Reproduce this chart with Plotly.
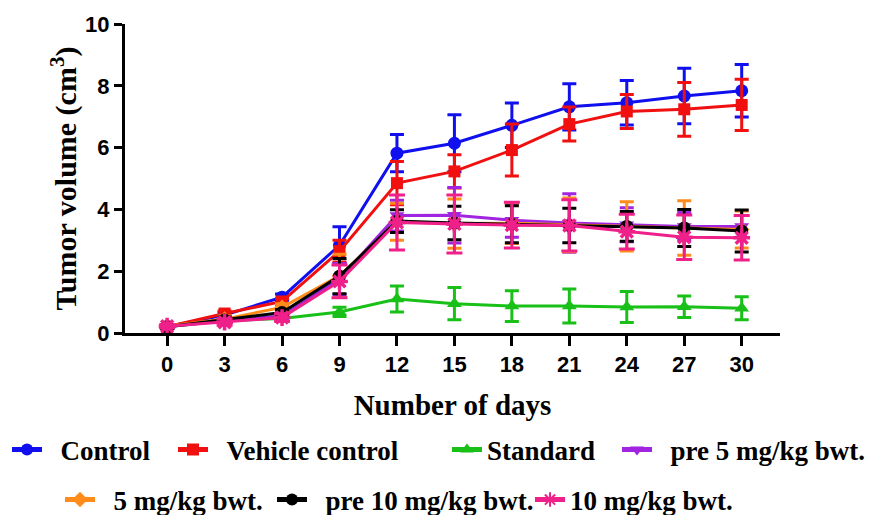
import plotly.graph_objects as go

# Days of measurement
days = [0, 3, 6, 9, 12, 15, 18, 21, 24, 27, 30]

# Mean tumour volume (cm^3) per group
control = [0.20, 0.58, 1.16, 2.84, 5.82, 6.14, 6.72, 7.32, 7.45, 7.67, 7.84]
vehicle = [0.20, 0.63, 1.02, 2.65, 4.85, 5.23, 5.92, 6.76, 7.17, 7.24, 7.38]
standard = [0.20, 0.40, 0.47, 0.68, 1.10, 0.95, 0.87, 0.87, 0.84, 0.85, 0.80]
pre5 = [0.20, 0.40, 0.55, 1.75, 3.80, 3.81, 3.65, 3.56, 3.50, 3.45, 3.45]
dose5 = [0.22, 0.45, 0.83, 1.85, 3.60, 3.54, 3.55, 3.50, 3.45, 3.40, 3.35]
pre10 = [0.20, 0.42, 0.66, 1.84, 3.62, 3.56, 3.52, 3.48, 3.45, 3.40, 3.30]
dose10 = [0.22, 0.35, 0.50, 1.67, 3.58, 3.53, 3.49, 3.48, 3.28, 3.10, 3.08]

# Standard deviations
control_sd = [0.05, 0.08, 0.10, 0.60, 0.60, 0.92, 0.72, 0.75, 0.72, 0.90, 0.85]
vehicle_sd = [0.05, 0.08, 0.10, 0.35, 0.70, 0.54, 0.84, 0.55, 0.55, 0.87, 0.83]
standard_sd = [0.05, 0.08, 0.10, 0.15, 0.42, 0.52, 0.50, 0.55, 0.50, 0.35, 0.37]
pre5_sd = [0.05, 0.10, 0.12, 0.50, 0.50, 0.90, 0.55, 0.95, 0.55, 0.45, 0.35]
dose5_sd = [0.05, 0.10, 0.12, 0.70, 0.60, 0.80, 0.65, 0.87, 0.80, 0.88, 0.60]
pre10_sd = [0.05, 0.10, 0.10, 0.57, 0.37, 0.54, 0.60, 0.56, 0.48, 0.60, 0.68]
dose10_sd = [0.05, 0.10, 0.12, 0.53, 0.89, 0.94, 0.74, 0.83, 0.56, 0.72, 0.72]

tick_vals_x = days
tick_vals_y = [0, 2, 4, 6, 8, 10]

groups = [
    ("Control", control, control_sd, "#1010EE", "circle", 13),
    ("Vehicle control", vehicle, vehicle_sd, "#F01010", "square", 12),
    ("Standard", standard, standard_sd, "#18C018", "triangle-up", 13),
    ("pre 5 mg/kg bwt.", pre5, pre5_sd, "#A024E0", "triangle-down", 13),
    ("5 mg/kg bwt.", dose5, dose5_sd, "#FF8C1A", "diamond", 12),
    ("pre 10 mg/kg bwt.", pre10, pre10_sd, "#000000", "circle", 13),
    ("10 mg/kg bwt.", dose10, dose10_sd, "#F0208A", "asterisk-open", 14),
]

# legend slot for each group: (legend id, x px of left edge, y px of centre, pad before text)
legend_slots = [
    ("legend", 7, 450, "\u2002"),
    ("legend2", 173, 450, "\u2002"),
    ("legend3", 447, 450, ""),
    ("legend4", 617, 450, "\u2002"),
    ("legend5", 60, 500, "\u2002"),
    ("legend6", 272, 500, "\u2002"),
    ("legend7", 530, 500, ""),
]

W, H = 876, 515
fig = go.Figure()

for (name, vals, sd, color, symbol, size), (lg, lx, ly, pad) in zip(groups, legend_slots):
    marker = dict(symbol=symbol, size=size, color=color)
    if symbol == "asterisk-open":
        marker["line"] = dict(color=color, width=3.5)
    fig.add_trace(go.Scatter(
        x=days, y=vals, name=pad + name, mode="lines+markers",
        line=dict(color=color, width=3),
        marker=marker,
        error_y=dict(type="data", array=sd, visible=True, color=color,
                     thickness=3, width=8 if symbol == "asterisk-open" else 7),
        legend=lg,
    ))

legend_font = dict(family="Liberation Serif", size=27, color="#000000", weight="bold")
layout_legends = {}
for lg, lx, ly, pad in legend_slots:
    layout_legends[lg] = dict(
        xref="container", yref="container",
        x=lx / W, y=1 - ly / H, xanchor="left", yanchor="middle",
        orientation="h", font=legend_font, bgcolor="rgba(0,0,0,0)",
        borderwidth=0, itemsizing="constant",
    )

fig.update_layout(
    width=W, height=H,
    margin=dict(l=125, r=96, t=24, b=181.5),
    paper_bgcolor="white", plot_bgcolor="white",
    showlegend=True,
    **layout_legends,
)

axis_common = dict(
    showgrid=False, zeroline=False, showline=True, linecolor="black",
    linewidth=3, ticks="outside", tickwidth=3, tickcolor="black",
    automargin=False,
    tickfont=dict(family="Liberation Sans", size=22, color="black", weight="bold"),
)

fig.update_xaxes(
    range=[-2.2, 32], tickmode="array", tickvals=tick_vals_x, ticklen=10,
    title=dict(text="<b>Number of days</b>", standoff=19,
               font=dict(family="Liberation Serif", size=29, color="black")),
    **axis_common,
)
fig.update_yaxes(
    range=[0, 10], tickmode="array", tickvals=tick_vals_y, ticklen=8,
    title=dict(text="<b>Tumor volume (cm<sup>3</sup>)</b>", standoff=0,
               font=dict(family="Liberation Serif", size=30, color="black")),
    **axis_common,
)

fig.write_html("out.html")
